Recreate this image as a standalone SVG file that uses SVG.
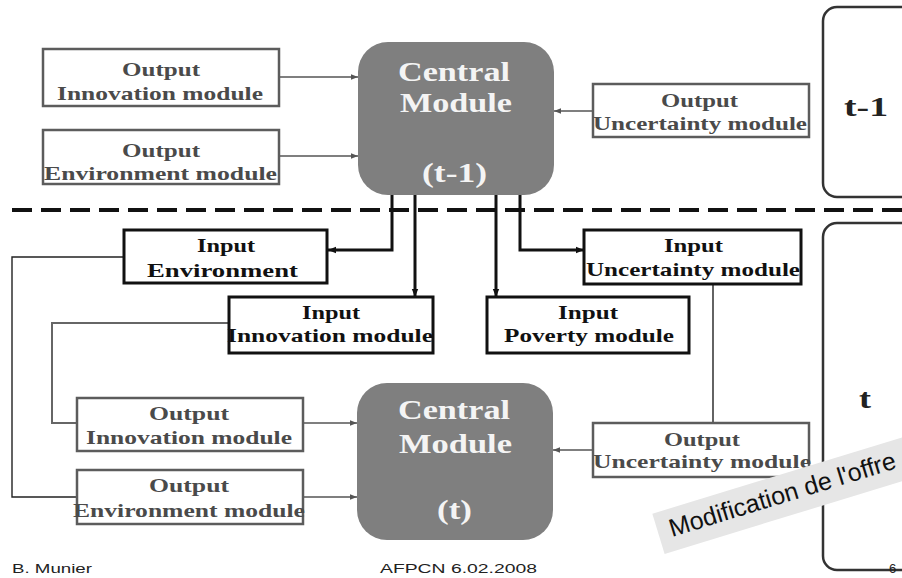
<svg xmlns="http://www.w3.org/2000/svg" width="902" height="578" viewBox="0 0 902 578">
<defs>
<style>
.out{fill:#fff;stroke:#5c5c5c;stroke-width:2.5}
.in{fill:#fff;stroke:#111;stroke-width:3}
.t{font-family:"Liberation Serif","Times New Roman",serif;font-weight:bold;font-size:19px}
.to{fill:#4a4a4a}
.ti{fill:#111}
.cm{fill:#7f7f7f}
.ct{font-family:"Liberation Serif","Times New Roman",serif;font-weight:bold;font-size:28px;fill:#f4f4f4}
.per{fill:none;stroke:#333;stroke-width:2.5}
.pt{font-family:"Liberation Serif","Times New Roman",serif;font-weight:bold;font-size:28px;fill:#222}
.cg{fill:none;stroke:#555;stroke-width:1.6}
.cb{fill:none;stroke:#111;stroke-width:3}
.cl{fill:none;stroke:#222;stroke-width:1.4}
.foot{font-family:"Liberation Sans",Arial,sans-serif;font-size:13px;fill:#222}
</style>
<marker id="ag" viewBox="0 0 10 10" refX="10" refY="5" markerWidth="8" markerHeight="7" markerUnits="userSpaceOnUse" orient="auto"><path d="M0,1 L10,5 L0,9 z" fill="#555"/></marker>
<marker id="ab" viewBox="0 0 10 10" refX="10" refY="5" markerWidth="9" markerHeight="8" markerUnits="userSpaceOnUse" orient="auto"><path d="M0,1 L10,5 L0,9 z" fill="#111"/></marker>
</defs>
<rect width="902" height="578" fill="#fff"/>

<!-- period frames -->
<g id="period-t-1">
<rect class="per" x="823" y="7" width="130" height="190" rx="14"/>
<text class="pt" x="844" y="116" textLength="44" lengthAdjust="spacingAndGlyphs">t-1</text>
</g>
<g id="period-t">
<rect class="per" x="823" y="223" width="130" height="347" rx="14"/>
<text class="pt" x="859" y="408" textLength="12" lengthAdjust="spacingAndGlyphs">t</text>
</g>

<!-- dashed separator -->
<line x1="12" y1="210" x2="902" y2="210" stroke="#111" stroke-width="4" stroke-dasharray="20 9"/>

<!-- connectors -->
<g id="connectors">
<line class="cg" x1="279" y1="77" x2="358" y2="77" marker-end="url(#ag)"/>
<line class="cg" x1="279" y1="156" x2="358" y2="156" marker-end="url(#ag)"/>
<line class="cg" x1="593" y1="111" x2="554" y2="111" marker-end="url(#ag)"/>
<polyline class="cb" points="392,195 392,250 328,250" marker-end="url(#ab)"/>
<line class="cb" x1="415" y1="195" x2="415" y2="297" marker-end="url(#ab)"/>
<line class="cb" x1="496" y1="195" x2="496" y2="297" marker-end="url(#ab)"/>
<polyline class="cb" points="520,195 520,250 584,250" marker-end="url(#ab)"/>
<polyline class="cl" points="124,257 12,257 12,497 77,497"/>
<polyline fill="none" stroke="#666" stroke-width="2" points="229,323 52,323 52,423 77,423"/>
<line class="cl" stroke="#555" x1="713" y1="284" x2="713" y2="423"/>
<line class="cg" x1="303" y1="423" x2="357" y2="423" marker-end="url(#ag)"/>
<line class="cg" x1="303" y1="497" x2="357" y2="497" marker-end="url(#ag)"/>
<line class="cg" x1="593" y1="450" x2="553" y2="450" marker-end="url(#ag)"/>
</g>

<!-- upper period (t-1) -->
<g id="out-innovation-t1">
<rect class="out" x="43" y="49" width="236" height="57"/>
<text class="t to" x="122" y="76" textLength="78" lengthAdjust="spacingAndGlyphs">Output</text>
<text class="t to" x="57" y="100" textLength="206" lengthAdjust="spacingAndGlyphs">Innovation module</text>
</g>
<g id="out-environment-t1">
<rect class="out" x="43" y="130" width="236" height="54"/>
<text class="t to" x="122" y="157" textLength="78" lengthAdjust="spacingAndGlyphs">Output</text>
<text class="t to" x="44" y="180" textLength="233" lengthAdjust="spacingAndGlyphs">Environment module</text>
</g>
<g id="central-t1">
<rect class="cm" x="358" y="42" width="196" height="153" rx="30"/>
<text class="ct" x="398" y="81" textLength="112" lengthAdjust="spacingAndGlyphs">Central</text>
<text class="ct" x="400" y="112" textLength="112" lengthAdjust="spacingAndGlyphs">Module</text>
<text class="ct" x="422" y="182" textLength="65" lengthAdjust="spacingAndGlyphs">(t-1)</text>
</g>
<g id="out-uncertainty-t1">
<rect class="out" x="593" y="84" width="216" height="53"/>
<text class="t to" x="661" y="107" textLength="77" lengthAdjust="spacingAndGlyphs">Output</text>
<text class="t to" x="593" y="130" textLength="214" lengthAdjust="spacingAndGlyphs">Uncertainty module</text>
</g>

<!-- lower period (t) -->
<g id="in-environment">
<rect class="in" x="124" y="230" width="203" height="53"/>
<text class="t ti" x="197" y="252" textLength="58" lengthAdjust="spacingAndGlyphs">Input</text>
<text class="t ti" x="147" y="277" textLength="151" lengthAdjust="spacingAndGlyphs">Environment</text>
</g>
<g id="in-innovation">
<rect class="in" x="229" y="297" width="204" height="56"/>
<text class="t ti" x="302" y="319" textLength="58" lengthAdjust="spacingAndGlyphs">Input</text>
<text class="t ti" x="227" y="342" textLength="206" lengthAdjust="spacingAndGlyphs">Innovation module</text>
</g>
<g id="in-poverty">
<rect class="in" x="487" y="297" width="202" height="56"/>
<text class="t ti" x="558" y="319" textLength="60" lengthAdjust="spacingAndGlyphs">Input</text>
<text class="t ti" x="504" y="342" textLength="170" lengthAdjust="spacingAndGlyphs">Poverty module</text>
</g>
<g id="in-uncertainty">
<rect class="in" x="584" y="230" width="217" height="54"/>
<text class="t ti" x="664" y="252" textLength="59" lengthAdjust="spacingAndGlyphs">Input</text>
<text class="t ti" x="586" y="276" textLength="214" lengthAdjust="spacingAndGlyphs">Uncertainty module</text>
</g>
<g id="out-innovation-t">
<rect class="out" x="77" y="398" width="226" height="53"/>
<text class="t to" x="149" y="420" textLength="80" lengthAdjust="spacingAndGlyphs">Output</text>
<text class="t to" x="86" y="444" textLength="206" lengthAdjust="spacingAndGlyphs">Innovation module</text>
</g>
<g id="out-environment-t">
<rect class="out" x="77" y="470" width="226" height="54"/>
<text class="t to" x="149" y="492" textLength="80" lengthAdjust="spacingAndGlyphs">Output</text>
<text class="t to" x="73" y="517" textLength="232" lengthAdjust="spacingAndGlyphs">Environment module</text>
</g>
<g id="central-t">
<rect class="cm" x="357" y="383" width="196" height="157" rx="30"/>
<text class="ct" x="398" y="419" textLength="112" lengthAdjust="spacingAndGlyphs">Central</text>
<text class="ct" x="399" y="453" textLength="113" lengthAdjust="spacingAndGlyphs">Module</text>
<text class="ct" x="437" y="519" textLength="35" lengthAdjust="spacingAndGlyphs">(t)</text>
</g>
<g id="out-uncertainty-t">
<rect class="out" x="593" y="423" width="216" height="54"/>
<text class="t to" x="664" y="446" textLength="76" lengthAdjust="spacingAndGlyphs">Output</text>
<text class="t to" x="593" y="468" textLength="218" lengthAdjust="spacingAndGlyphs">Uncertainty module</text>
</g>

<!-- rotated banner -->
<g id="banner" transform="translate(672,537) rotate(-17)">
<rect x="-12" y="-28" width="292" height="42" fill="#e6e6e6"/>
<text x="0" y="0" font-family="'Liberation Sans',Arial,sans-serif" font-size="25" fill="#111" textLength="236" lengthAdjust="spacingAndGlyphs">Modification de l'offre</text>
</g>

<!-- footer -->
<text class="foot" x="12" y="573" textLength="80" lengthAdjust="spacingAndGlyphs">B. Munier</text>
<text class="foot" x="380" y="573" textLength="157" lengthAdjust="spacingAndGlyphs">AFPCN 6.02.2008</text>
<text class="foot" x="889" y="573">6</text>
</svg>
